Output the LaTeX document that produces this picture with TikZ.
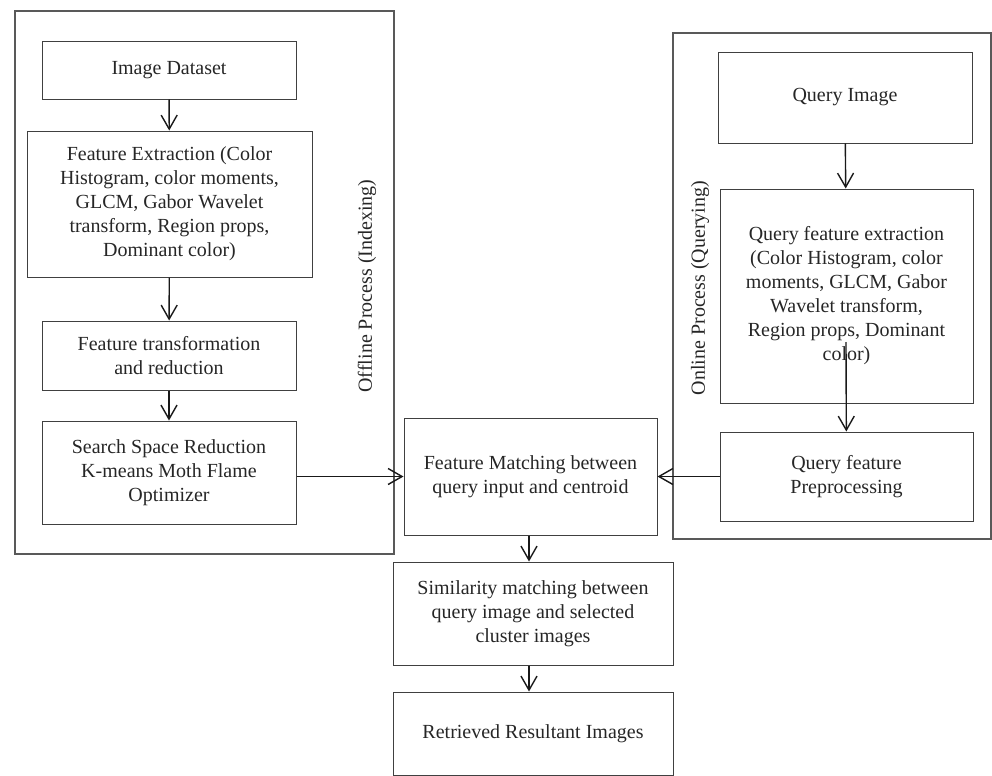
\documentclass[tikz,border=0pt]{standalone}
\usepackage{fontspec}
\setmainfont{Liberation Serif}
\usetikzlibrary{arrows.meta}
\begin{document}
\begin{tikzpicture}[x=0.5pt,y=-0.5pt,
		box/.style={draw=black!75,line width=0.5pt,inner sep=0pt,align=center,text=black!85},
		frame/.style={draw=black!65,line width=0.55pt},
		side/.style={rotate=90,text=black!85},
		arr/.style={-{Straight Barb[length=7pt,width=8pt]},line width=0.7pt,black!90}]
		\useasboundingbox (0,0) rectangle (992,776);
		% offline part
		\draw[frame] (15,11) rectangle (394,554);
		\node[box,minimum width=127pt,minimum height=29pt,name=dataset] at (169,70){Image Dataset};
		\node[box,minimum width=142.5pt,minimum height=73pt,name=extract] at (169.5,204){Feature Extraction (Color\\Histogram, color moments,\\GLCM, Gabor Wavelet\\transform, Region props,\\Dominant color)};
		\node[box,minimum width=127pt,minimum height=34.5pt,name=transform] at (169,355.5){Feature transformation\\and reduction};
		\node[box,minimum width=127pt,minimum height=51.5pt,name=search] at (169,472.5){Search Space Reduction\\K-means Moth Flame\\Optimizer};
		\node[side,name=offline] at (367,286){Offline Process (Indexing)};
		% online part
		\draw[frame] (673,33) rectangle (991,539);
		\node[box,minimum width=127pt,minimum height=45.5pt,name=query] at (845,97.5){Query Image};
		\node[box,minimum width=126.5pt,minimum height=107pt,name=qextract] at (846.5,296){Query feature extraction\\(Color Histogram, color\\moments, GLCM, Gabor\\Wavelet transform,\\Region props, Dominant\\color)};
		\node[box,minimum width=126.5pt,minimum height=44.5pt,name=qprep] at (846.5,476.5){Query feature\\Preprocessing};
		\node[side,name=online] at (700,288){Online Process (Querying)};
		\coordinate (qtail) at (846,342);
		% matching
		\node[box,minimum width=126.5pt,minimum height=58.5pt,name=match] at (530.5,476.5){Feature Matching between\\query input and centroid};
		\node[box,minimum width=140pt,minimum height=51.5pt,name=simil] at (533,613.5){Similarity matching between\\query image and selected\\cluster images};
		\node[box,minimum width=140pt,minimum height=41.5pt,name=result] at (533,733.5){Retrieved Resultant Images};
		\draw[arr] (dataset)--(extract);
		\draw[arr] (extract)--(transform);
		\draw[arr] (transform)--(search);
		\draw[arr] (search.east|-match.west)--(match.west);
		\draw[arr] (query)--(qextract);
		\draw[arr] (qtail)--(qprep);
		\draw[arr] (qprep)--(match);
		\draw[arr] (match.south-|529,0)--(simil.north-|529,0);
		\draw[arr] (simil.south-|529,0)--(result.north-|529,0);
	\end{tikzpicture}
\end{document}
